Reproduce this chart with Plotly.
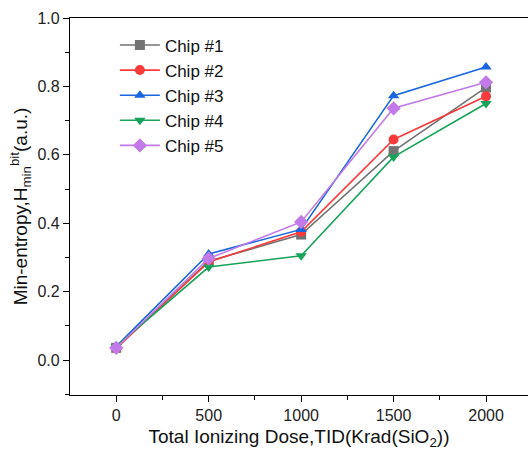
import plotly.graph_objects as go

dose = [0, 500, 1000, 1500, 2000]
chip1 = [0.036, 0.289, 0.367, 0.611, 0.797]
chip2 = [0.034, 0.287, 0.375, 0.645, 0.771]
chip3 = [0.040, 0.310, 0.382, 0.773, 0.857]
chip4 = [0.040, 0.272, 0.305, 0.594, 0.750]
chip5 = [0.036, 0.297, 0.404, 0.736, 0.812]
names = ["Chip #1", "Chip #2", "Chip #3", "Chip #4", "Chip #5"]
colors = ["#737373", "#F83A3A", "#1866E0", "#16A35A", "#C27AE8"]
symbols = ["square", "circle", "triangle-up", "triangle-down", "diamond"]
series = [chip1, chip2, chip3, chip4, chip5]

fig = go.Figure()
for n, c, s, y in zip(names, colors, symbols, series):
    fig.add_trace(go.Scatter(
        x=dose, y=y, name=n, mode="lines+markers",
        line=dict(color=c, width=1.6),
        marker=dict(symbol=s, color=c, size=10 if s != "diamond" else 11),
    ))

axis_common = dict(
    showline=True, linecolor="black", linewidth=1.3, mirror=True,
    ticks="outside", ticklen=6, tickwidth=1, tickcolor="black",
    showgrid=False, zeroline=False, automargin=False,
    tickfont=dict(family="Liberation Sans, Arial", size=16, color="#222"),
    title_font=dict(family="Liberation Sans, Arial", size=19, color="#111"),
)

fig.update_layout(
    width=528, height=450,
    margin=dict(l=70, r=0, t=18, b=55),
    paper_bgcolor="white", plot_bgcolor="white",
    font=dict(family="Liberation Sans, Arial", color="#111"),
    xaxis=dict(range=[-250, 2227], tickvals=[0, 500, 1000, 1500, 2000],
               minor=dict(tickvals=[250, 750, 1250, 1750], ticks="outside", ticklen=4, tickcolor="black"),
               title=dict(text="Total Ionizing Dose,TID(Krad(SiO<sub>2</sub>))", standoff=6),
               **axis_common),
    yaxis=dict(range=[-0.102, 1.0], tickvals=[0, 0.2, 0.4, 0.6, 0.8, 1.0],
               ticktext=["0.0", "0.2", "0.4", "0.6", "0.8", "1.0"],
               minor=dict(tickvals=[-0.1, 0.1, 0.3, 0.5, 0.7, 0.9], ticks="outside", ticklen=4, tickcolor="black"),
               title=dict(text="Min-entropy,H<sub>min</sub><sup>bit</sup>(a.u.)", standoff=4),
               **axis_common),
    legend=dict(x=0.098, y=0.975, xanchor="left", yanchor="top",
                bgcolor="rgba(0,0,0,0)", font=dict(family="Liberation Sans, Arial", size=17, color="#111"),
                tracegroupgap=0, itemwidth=40),
    showlegend=True,
)

fig.write_html("out.html", config={"displayModeBar": False},
               post_script="document.body.style.margin='0';document.body.style.overflow='hidden';")
